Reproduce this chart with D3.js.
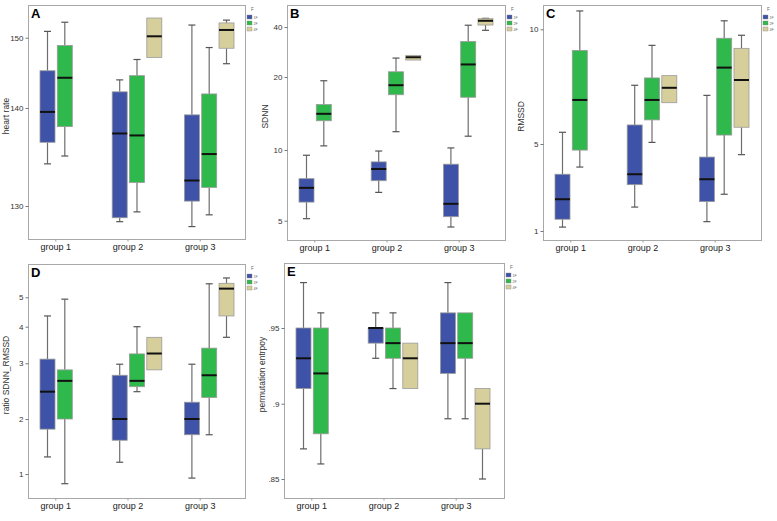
<!DOCTYPE html>
<html>
<head>
<meta charset="utf-8">
<script src="https://cdn.jsdelivr.net/npm/d3@7"></script>
<style>
  html, body { margin: 0; padding: 0; background: #fff; }
  svg { display: block; font-family: "Liberation Sans", Arial, sans-serif; }
</style>
</head>
<body>
<svg id="chart" width="777" height="521"></svg>
<script>
// ---------- data ----------
const groups = ["group 1", "group 2", "group 3"];
const fLevels = ["1F", "2F", "4F"];
const legendTitle = "F";

// each entry: [lower whisker, Q1, median, Q3, upper whisker]; order g1-1F, g1-2F, g1-4F, g2-1F ... ; null = no box
const heartRate = [
  [134.3, 136.5, 139.6, 145.3, 150.9], [135.1, 138.1, 144.3, 148.9, 152.2], null,
  [128.4, 128.8, 137.4, 142.3, 144.0], [129.4, 132.4, 137.2, 144.6, 146.9], [147.2, 147.2, 150.2, 152.8, 152.8],
  [127.9, 130.5, 132.6, 139.3, 151.8], [129.1, 131.9, 135.3, 142.0, 148.6], [146.3, 148.5, 151.1, 152.1, 152.5]
];
const sdnn = [
  [5.1, 6.0, 6.9, 7.55, 9.5], [10.4, 13.2, 14.1, 15.4, 19.3], null,
  [6.6, 7.4, 8.3, 8.9, 9.9], [11.9, 16.9, 18.5, 21.5, 26.0], [25.3, 25.3, 26.3, 27.0, 27.0],
  [4.7, 5.2, 5.9, 8.7, 10.2], [11.4, 16.5, 23.8, 32.7, 41.0], [38.2, 41.1, 43.6, 44.9, 45.1]
];
const rmssd = [
  [1.18, 1.54, 2.46, 3.61, 5.51], [3.94, 4.72, 6.92, 9.08, 10.8], null,
  [2.10, 3.13, 3.61, 5.83, 7.56], [5.07, 6.05, 6.92, 7.88, 9.30], [6.80, 6.80, 7.45, 7.98, 7.98],
  [1.43, 2.35, 3.38, 4.40, 7.12], [2.69, 5.39, 8.33, 9.61, 10.37], [4.51, 5.73, 7.79, 9.17, 9.74]
];
const ratioSdnnRmssd = [
  [1.24, 1.76, 2.44, 3.10, 4.34], [0.885, 2.0, 2.64, 2.86, 4.93], null,
  [1.16, 1.53, 2.0, 2.75, 2.98], [2.44, 2.53, 2.64, 3.23, 4.0], [2.86, 2.86, 3.24, 3.68, 3.68],
  [0.95, 1.64, 2.0, 2.26, 2.98], [1.64, 2.34, 2.75, 3.38, 5.54], [3.68, 4.34, 5.34, 5.56, 5.79]
];
const permEntropy = [
  [0.87, 0.91, 0.93, 0.95, 0.98], [0.86, 0.88, 0.92, 0.95, 0.96], null,
  [0.93, 0.94, 0.95, 0.95, 0.96], [0.91, 0.93, 0.94, 0.95, 0.96], [0.91, 0.91, 0.93, 0.94, 0.94],
  [0.89, 0.92, 0.94, 0.96, 0.98], [0.89, 0.93, 0.94, 0.96, 0.96], [0.85, 0.87, 0.90, 0.91, 0.91]
];

const ticksA = [150, 140, 130];          const tickLabelsA = ["150", "140", "130"];
const ticksB = [40, 20, 10, 5];          const tickLabelsB = ["40", "20", "10", "5"];
const ticksC = [10, 5, 1];               const tickLabelsC = ["10", "5", "1"];
const ticksD = [5, 4, 3, 2, 1];          const tickLabelsD = ["5", "4", "3", "2", "1"];
const ticksE = [0.95, 0.9, 0.85];        const tickLabelsE = [".95", ".9", ".85"];

// ---------- layout / style ----------
const colors = ["#3e53a7", "#2fb84b", "#d6cf9b"];
const panels = [
  { letter: "A", title: "heart rate", data: heartRate, ticks: ticksA, labels: tickLabelsA, type: "linear",
    x0: 28, x1: 245, y0: 5, y1: 239, tickY: [37.7, 108, 206] },
  { letter: "B", title: "SDNN", data: sdnn, ticks: ticksB, labels: tickLabelsB, type: "log",
    x0: 287, x1: 505, y0: 5, y1: 240, tickY: [27, 77, 150, 220.7] },
  { letter: "C", title: "RMSSD", data: rmssd, ticks: ticksC, labels: tickLabelsC, type: "linear",
    x0: 543, x1: 761, y0: 5, y1: 240, tickY: [29.3, 144, 231] },
  { letter: "D", title: "ratio SDNN_RMSSD", data: ratioSdnnRmssd, ticks: ticksD, labels: tickLabelsD, type: "log",
    x0: 28, x1: 245, y0: 264, y1: 498, tickY: [297.3, 326.7, 363.3, 419, 474] },
  { letter: "E", title: "permutation entrpoy", data: permEntropy, ticks: ticksE, labels: tickLabelsE, type: "linear",
    x0: 284, x1: 504, y0: 263, y1: 498, tickY: [328, 403.7, 479] }
];

const svg = d3.select("#chart");

panels.forEach(p => {
  const g = svg.append("g");
  const y = (p.type === "log" ? d3.scaleLog() : d3.scaleLinear())
    .domain(p.ticks).range(p.tickY);
  const x = d3.scaleBand().domain(groups).range([p.x0 + 0.7, p.x0 + 0.7 + 216.6]);
  const xs = d3.scaleBand().domain(fLevels).range([-24.8, 24.8]).paddingInner(0.133);

  // frame
  g.append("rect")
    .attr("x", p.x0 + 0.5).attr("y", p.y0 + 0.5)
    .attr("width", p.x1 - p.x0).attr("height", p.y1 - p.y0)
    .attr("fill", "#fff").attr("stroke", "#a8a8a8").attr("stroke-width", 1);

  // y axis
  const ax = g.append("g").attr("transform", `translate(${p.x0 + 0.5},0)`)
    .call(d3.axisLeft(y).tickValues(p.ticks).tickSize(3).tickPadding(2)
      .tickFormat((d, i) => p.labels[i]));
  ax.select(".domain").remove();
  ax.selectAll("line").attr("stroke", "#777");
  ax.selectAll("text").attr("font-size", 8).attr("fill", "#333")
    .attr("font-family", "'Liberation Sans', Arial, sans-serif");

  // y title
  g.append("text")
    .attr("transform", `translate(${p.x0 - 19.5},${(p.y0 + p.y1) / 2 - 6}) rotate(-90)`)
    .attr("text-anchor", "middle")
    .attr("font-size", 8.5).attr("fill", "#333")
    .text(p.title);

  // x labels
  groups.forEach(gr => {
    const cx = x(gr) + x.bandwidth() / 2;
    g.append("line").attr("x1", cx - 9).attr("x2", cx - 9)
      .attr("y1", p.y1 + 0.5).attr("y2", p.y1 + 2.5).attr("stroke", "#999");
    g.append("text").attr("x", cx - 9).attr("y", p.y1 + 11)
      .attr("text-anchor", "middle").attr("font-size", 9).attr("fill", "#222")
      .text(gr);
  });

  // boxes
  p.data.forEach((d, i) => {
    if (!d) return;
    const gr = groups[Math.floor(i / 3)];
    const lv = fLevels[i % 3];
    const bx = x(gr) + x.bandwidth() / 2 + xs(lv);
    const bw = xs.bandwidth();
    const cx = bx + bw / 2;
    const [lo, q1, med, q3, hi] = d;
    const bg = g.append("g");
    const cap = 3.5;
    if (hi > q3) {
      bg.append("line").attr("x1", cx).attr("x2", cx).attr("y1", y(hi)).attr("y2", y(q3))
        .attr("stroke", "#6e6e6e").attr("stroke-width", 1.2);
      bg.append("line").attr("x1", cx - cap).attr("x2", cx + cap).attr("y1", y(hi)).attr("y2", y(hi))
        .attr("stroke", "#555").attr("stroke-width", 1.2);
    }
    if (lo < q1) {
      bg.append("line").attr("x1", cx).attr("x2", cx).attr("y1", y(q1)).attr("y2", y(lo))
        .attr("stroke", "#6e6e6e").attr("stroke-width", 1.2);
      bg.append("line").attr("x1", cx - cap).attr("x2", cx + cap).attr("y1", y(lo)).attr("y2", y(lo))
        .attr("stroke", "#555").attr("stroke-width", 1.2);
    }
    bg.append("rect").attr("x", bx).attr("width", bw)
      .attr("y", y(q3)).attr("height", Math.max(0.5, y(q1) - y(q3)))
      .attr("fill", colors[i % 3]).attr("stroke", "#9a9a9a").attr("stroke-width", 0.8);
    bg.append("line").attr("x1", bx).attr("x2", bx + bw).attr("y1", y(med)).attr("y2", y(med))
      .attr("stroke", "#111").attr("stroke-width", 2);
  });

  // panel letter
  g.append("text").attr("x", p.x0 + 3).attr("y", p.y0 + 13)
    .attr("font-size", 13).attr("font-weight", "bold").attr("fill", "#000")
    .text(p.letter);

  // legend
  const lg = g.append("g").attr("transform", `translate(${p.x1 + 2},${p.y0})`);
  lg.append("text").attr("x", 4).attr("y", 6).attr("font-size", 4.5).attr("fill", "#666").text(legendTitle);
  fLevels.forEach((lv, k) => {
    lg.append("rect").attr("x", 0).attr("y", 10 + k * 6).attr("width", 5).attr("height", 4)
      .attr("fill", colors[k]).attr("stroke", "#888").attr("stroke-width", 0.4);
    lg.append("text").attr("x", 6.5).attr("y", 13.6 + k * 6).attr("font-size", 3.5).attr("fill", "#666").text(lv);
  });
});
</script>
</body>
</html>
